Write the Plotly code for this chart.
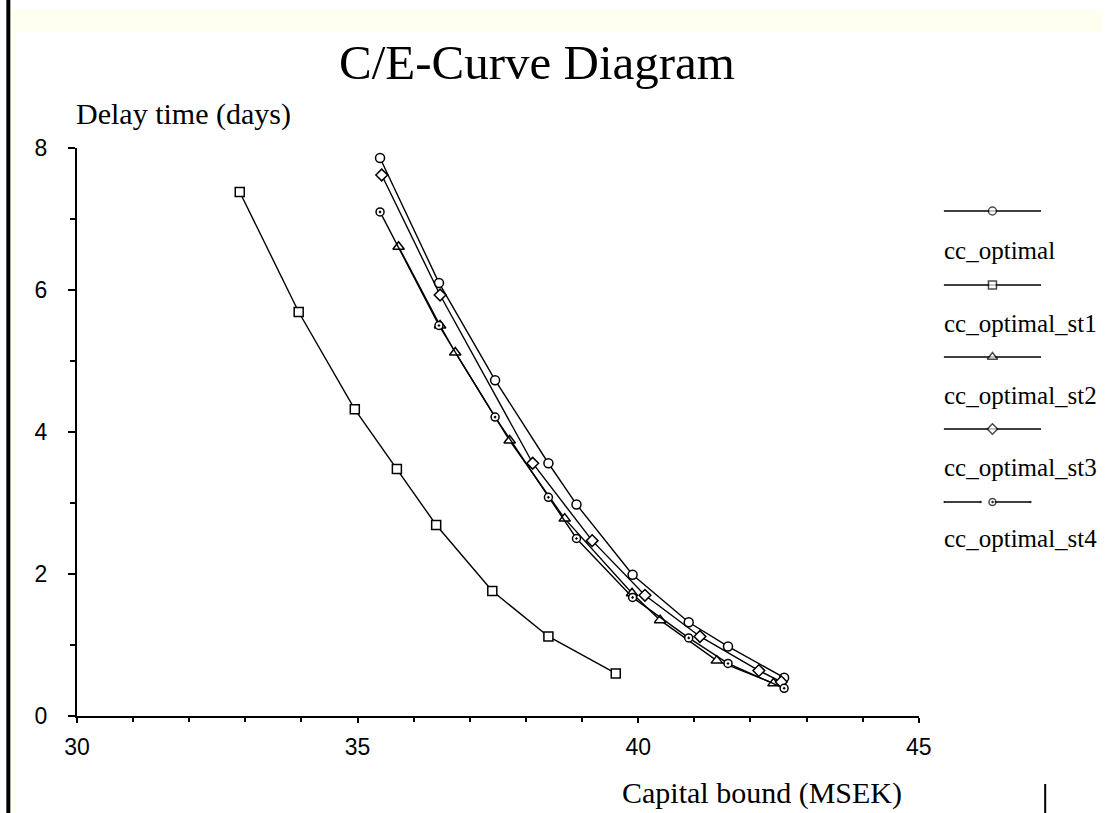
import plotly.graph_objects as go

# ---------------- data ----------------
cap_opt = [35.4, 36.45, 37.45, 38.4, 38.9, 39.9, 40.9, 41.6, 42.6]
delay_opt = [7.86, 6.1, 4.73, 3.56, 2.98, 1.99, 1.32, 0.98, 0.54]

cap_st1 = [32.9, 33.95, 34.95, 35.7, 36.4, 37.4, 38.4, 39.6]
delay_st1 = [7.38, 5.69, 4.32, 3.48, 2.69, 1.76, 1.12, 0.60]

cap_st2 = [35.73, 36.47, 36.74, 37.71, 38.69, 39.89, 40.39, 41.4, 42.41]
delay_st2 = [6.61, 5.5, 5.12, 3.88, 2.78, 1.73, 1.35, 0.78, 0.46]

cap_st3 = [35.43, 36.47, 38.12, 39.18, 40.12, 41.1, 42.15, 42.55]
delay_st3 = [7.62, 5.93, 3.56, 2.47, 1.70, 1.12, 0.64, 0.48]

cap_st4 = [35.4, 36.45, 37.45, 38.4, 38.9, 39.9, 40.9, 41.6, 42.6]
delay_st4 = [7.1, 5.5, 4.21, 3.08, 2.5, 1.67, 1.1, 0.74, 0.39]

series_names = ["cc_optimal", "cc_optimal_st1", "cc_optimal_st2", "cc_optimal_st3", "cc_optimal_st4"]
x_ticks = [30, 35, 40, 45]
y_ticks = [0, 2, 4, 6, 8]

title_text = "C/E-Curve Diagram"
y_title = "Delay time (days)"
x_title = "Capital bound (MSEK)"

# ---------------- layout geometry (pixels) ----------------
W, H = 1107, 813
L, R, T, B = 77, 20, 148, 97
PW = W - L - R
PH = H - T - B
main_right = 923


def px(xp):
    return (xp - L) / PW


def py(yp):
    return (H - B - yp) / PH


symbols = ["circle", "square", "triangle-up", "diamond", "circle-dot"]
sizes = [9, 9, 10, 9, 8]
xs = [cap_opt, cap_st1, cap_st2, cap_st3, cap_st4]
ys = [delay_opt, delay_st1, delay_st2, delay_st3, delay_st4]

fig = go.Figure()
for name, sx, sy, sym, sz in zip(series_names, xs, ys, symbols, sizes):
    fig.add_trace(go.Scatter(
        x=sx, y=sy, mode="lines+markers", name=name,
        line=dict(color="black", width=1.4),
        marker=dict(symbol=sym, size=sz, color="white",
                    line=dict(color="black", width=1.5)),
        showlegend=False, cliponaxis=False,
    ))

# custom legend on helper axes (line sample above label)
leg_line_y = [211, 285, 357, 429, 502]
leg_text_y = [250, 323, 395, 467, 538]
for i, (name, sym, sz) in enumerate(zip(series_names, symbols, sizes)):
    if i == 4:
        lx = [0, 0.38, None, 0.5, 0.89]
        msz = [0, 0, 0, sz - 1, 0]
    else:
        lx = [0, 0.5, 1]
        msz = [0, sz - 1, 0]
    fig.add_trace(go.Scatter(
        x=lx, y=[leg_line_y[i]] * len(lx), mode="lines+markers",
        xaxis="x2", yaxis="y2", showlegend=False, hoverinfo="skip",
        line=dict(color="black", width=1.6), connectgaps=False,
        marker=dict(symbol=sym, size=msz, color="white",
                    line=dict(color="black", width=1.5)),
    ))
    fig.add_annotation(text=name, xref="paper", yref="paper",
                       x=px(946), y=py(leg_text_y[i]), xanchor="left", yanchor="middle",
                       showarrow=False,
                       font=dict(family="Liberation Serif", size=25, color="black"))

axis_common = dict(showgrid=False, zeroline=False, showline=True, linecolor="black",
                   linewidth=2, ticks="outside", tickcolor="black", tickwidth=2,
                   tickfont=dict(family="Liberation Sans", size=23, color="black"))

fig.update_layout(
    width=W, height=H,
    margin=dict(l=L, r=R, t=T, b=B),
    paper_bgcolor="white", plot_bgcolor="white",
    showlegend=False,
    xaxis=dict(domain=[0, px(main_right)], range=[30, 45], tickvals=x_ticks,
               ticklen=5, ticklabelstandoff=4,
               minor=dict(dtick=1, ticks="outside", ticklen=4, tickcolor="black", tickwidth=2),
               **axis_common),
    yaxis=dict(domain=[0, 1], range=[0, 8], tickvals=y_ticks,
               ticklen=7, ticklabelstandoff=16,
               minor=dict(dtick=1, ticks="outside", ticklen=5, tickcolor="black", tickwidth=2),
               **axis_common),
    xaxis2=dict(domain=[px(948), px(1046)], range=[0, 1], visible=False, anchor="y2"),
    yaxis2=dict(domain=[0, 1], range=[H - B, T], visible=False, anchor="x2"),
)

# titles
fig.add_annotation(text=title_text, xref="paper", yref="paper", x=px(539.5), y=py(62),
                   xanchor="center", yanchor="middle", showarrow=False,
                   font=dict(family="Liberation Serif", size=49, color="black"))
fig.add_annotation(text=y_title, xref="paper", yref="paper", x=px(74), y=py(114),
                   xanchor="left", yanchor="middle", showarrow=False,
                   font=dict(family="Liberation Serif", size=30, color="black"))
fig.add_annotation(text=x_title, xref="paper", yref="paper", x=px(908), y=py(793),
                   xanchor="right", yanchor="middle", showarrow=False,
                   font=dict(family="Liberation Serif", size=30, color="black"))

# page frame decorations
fig.add_shape(type="rect", xref="paper", yref="paper", x0=px(10), x1=px(W), y0=py(10), y1=py(32),
              fillcolor="#FFFFF0", line=dict(width=0), layer="below")
fig.add_shape(type="rect", xref="paper", yref="paper", x0=px(10), x1=px(16), y0=py(10), y1=py(H),
              fillcolor="#FFFFF0", line=dict(width=0), layer="below")
fig.add_shape(type="rect", xref="paper", yref="paper", x0=px(6), x1=px(10), y0=py(0), y1=py(H),
              fillcolor="black", line=dict(width=0), layer="above")
fig.add_shape(type="rect", xref="paper", yref="paper", x0=px(1049), x1=px(1051), y0=py(784), y1=py(H),
              fillcolor="black", line=dict(width=0), layer="above")

fig.write_html("out.html", config={"displayModeBar": False},
               post_script="document.body.style.margin='0';document.body.style.overflow='hidden';")
